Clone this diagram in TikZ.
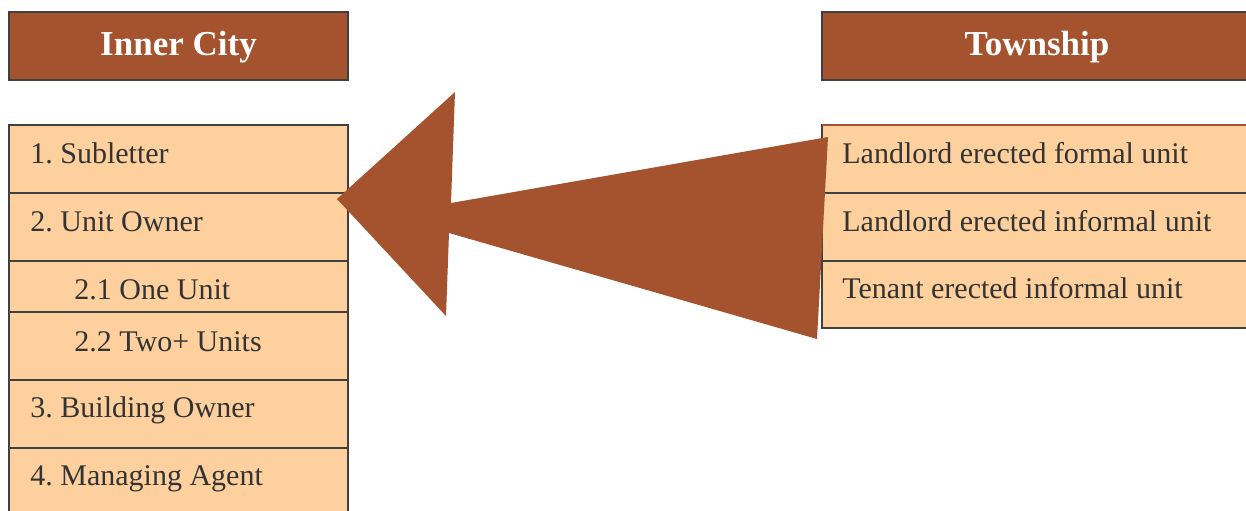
\documentclass[tikz,border=0pt]{standalone}
\usepackage{fontspec}
\setmainfont{Liberation Serif}
\frenchspacing
\definecolor{rust}{HTML}{A5532F}
\definecolor{peach}{HTML}{FDD09D}
\definecolor{edge}{HTML}{404040}
\definecolor{ink}{HTML}{333333}
\tikzset{
  headbox/.style={fill=rust, draw=edge, line width=1pt},
  cellbox/.style={fill=peach, draw=edge, line width=0.9pt},
  headtext/.style={text=white, anchor=base, inner sep=0pt,
    font=\fontsize{17.5}{20}\selectfont\bfseries},
  celltext/.style={text=ink, anchor=base west, inner sep=0pt,
    font=\fontsize{15}{18}\selectfont},
}

\begin{document}
\begin{tikzpicture}[x=0.5pt,y=-0.5pt]
\useasboundingbox (0,0) rectangle (1246,510);

% headers
\draw[headbox] (9,12) rectangle (348,80);
\node[headtext] (city) at (178.5,55) {Inner City};
\draw[headbox] (822,12) rectangle (1252,80);
\node[headtext] (town) at (1037,55) {Township};

\begin{scope}[name prefix = city-]
    \draw[cellbox] (9,125) rectangle (348,193);
    \node[celltext] (sub) at (30,163) {1. Subletter};
    \draw[cellbox] (9,193) rectangle (348,261);
    \node[celltext] (owner) at (30,231) {2. Unit Owner};
    \draw[cellbox] (9,261) rectangle (348,312);
    \node[celltext] (one) at (74,299) {2.1 One Unit};
    \draw[cellbox] (9,312) rectangle (348,380);
    \node[celltext] (two) at (74,351) {2.2 Two+ Units};
    \draw[cellbox] (9,380) rectangle (348,448);
    \node[celltext] (building) at (30,417) {3. Building Owner};
    \draw[cellbox] (9,448) rectangle (348,516);
    \node[celltext] (agent) at (30,485) {4. Managing Agent};
\end{scope}

\begin{scope}[name prefix = town-]
    \draw[cellbox] (822,125) rectangle (1252,193);
    \draw[rust, line width=0.9pt] (822,125) -- (1252,125);
    \node[celltext] (formal) at (842,163) {Landlord erected formal unit};
    \draw[cellbox] (822,193) rectangle (1252,261);
    \node[celltext] (informal) at (842,231) {Landlord erected informal unit};
    \draw[cellbox] (822,261) rectangle (1252,328);
    \node[celltext] (tenant) at (842,298) {Tenant erected informal unit};
\end{scope}

% block arrow from township to inner city
\fill[rust] (337,199) -- (455,92) -- (451,203) -- (828,137)
    -- (817,339) -- (449,233) -- (446,316) -- cycle;

\end{tikzpicture}
\end{document}
